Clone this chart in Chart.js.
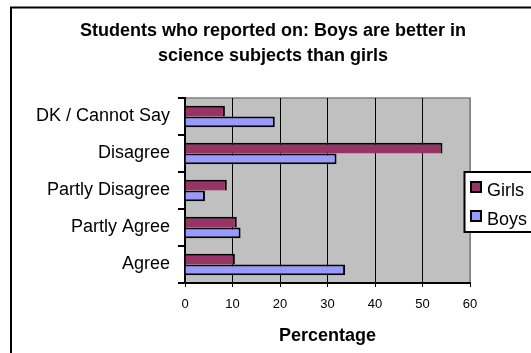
<!DOCTYPE html>
<html>
<head>
<meta charset="utf-8">
<script src="https://cdn.jsdelivr.net/npm/chart.js@4.4.0/dist/chart.umd.min.js"></script>
<style>
  body { margin: 0; background: #fff; }
</style>
</head>
<body>
<canvas id="myChart" width="531" height="353"></canvas>
<script>
const responses = ['DK / Cannot Say', 'Disagree', 'Partly Disagree', 'Partly Agree', 'Agree'];
const girls = [8.4, 54.2, 8.8, 10.9, 10.5];
const boys = [18.9, 31.9, 4.2, 11.7, 33.7];
const titleLines = ['Students who reported on: Boys are better in', 'science subjects than girls'];
const axisTitle = 'Percentage';

const FONT = 'Arial, "Liberation Sans", sans-serif';

// frame, grey plot area and the boxed legend on the right
const excelLook = {
  id: 'excelLook',
  beforeDraw(chart) {
    const c = chart.ctx, a = chart.chartArea;
    c.save();
    c.strokeStyle = '#000';
    c.lineWidth = 2;
    c.strokeRect(11, 7.5, 600, 400);
    c.fillStyle = '#c0c0c0';
    c.fillRect(a.left, a.top, a.right - a.left, a.bottom - a.top);
    c.strokeStyle = '#808080';
    c.lineWidth = 1.5;
    c.beginPath();
    c.moveTo(a.left, a.top);
    c.lineTo(a.right, a.top);
    c.lineTo(a.right, a.bottom);
    c.stroke();
    c.restore();
  },
  afterDraw(chart) {
    const c = chart.ctx;
    c.save();
    c.fillStyle = '#fff';
    c.fillRect(464.5, 172, 80, 60);
    c.strokeStyle = '#000';
    c.lineWidth = 2;
    c.strokeRect(464.5, 172, 80, 60);
    c.font = '18px ' + FONT;
    c.textBaseline = 'alphabetic';
    chart.data.datasets.forEach((ds, i) => {
      const y = 182 + i * 29;
      c.fillStyle = ds.backgroundColor;
      c.fillRect(471, y, 10, 10);
      c.strokeRect(471, y, 10, 10);
      c.fillStyle = '#000';
      c.fillText(ds.label, 487, y + 14);
    });
    c.restore();
  }
};

new Chart(document.getElementById('myChart'), {
  type: 'bar',
  data: {
    labels: responses,
    datasets: [{
      label: 'Girls',
      data: girls,
      backgroundColor: '#993366',
      borderColor: '#000',
      borderWidth: { top: 2, right: 2, bottom: 0, left: 0 },
      borderSkipped: false,
      categoryPercentage: 0.58,
      barPercentage: 1,
      xAxisID: 'x',
      yAxisID: 'y'
    }, {
      label: 'Boys',
      data: boys,
      backgroundColor: '#9999ff',
      borderColor: '#000',
      borderWidth: { top: 2, right: 2, bottom: 2, left: 0 },
      borderSkipped: false,
      categoryPercentage: 0.58,
      barPercentage: 1,
      xAxisID: 'x',
      yAxisID: 'y'
    }]
  },
  options: {
    responsive: false,
    animation: false,
    indexAxis: 'y',
    layout: { padding: { left: 15, right: 0, top: 0, bottom: 0 } },
    plugins: {
      legend: { display: false },
      tooltip: { enabled: false },
      title: {
        display: true,
        text: titleLines,
        color: '#000',
        font: { family: FONT, size: 18, weight: 'bold', lineHeight: 25 / 18 },
        padding: { top: 19, bottom: 29 }
      }
    },
    scales: {
      x: {
        min: 0,
        max: 60,
        ticks: { stepSize: 10, color: '#000', padding: 10, font: { family: FONT, size: 13 } },
        grid: {
          color: ctx => ctx.tick && ctx.tick.value === 60 ? '#808080' : '#000',
          tickColor: '#000',
          lineWidth: 1,
          tickLength: 4
        },
        border: { color: '#000', width: 2 },
        title: {
          display: true,
          text: axisTitle,
          color: '#000',
          font: { family: FONT, size: 18, weight: 'bold', lineHeight: 1.2 },
          padding: { top: 0, bottom: 6 }
        },
        afterFit(s) { s.height = 70; }
      },
      y: {
        ticks: { color: '#000', padding: 8, autoSkip: false, font: { family: FONT, size: 18 } },
        grid: { drawOnChartArea: false, color: '#000', tickLength: 7, lineWidth: 2 },
        border: { color: '#000', width: 2 },
        afterFit(s) { s.width = 170; }
      },
      pad: {
        type: 'linear',
        position: 'right',
        display: true,
        grid: { display: false },
        ticks: { display: false },
        border: { display: false },
        afterFit(s) { s.width = 61; }
      }
    }
  },
  plugins: [excelLook]
});
</script>
</body>
</html>
